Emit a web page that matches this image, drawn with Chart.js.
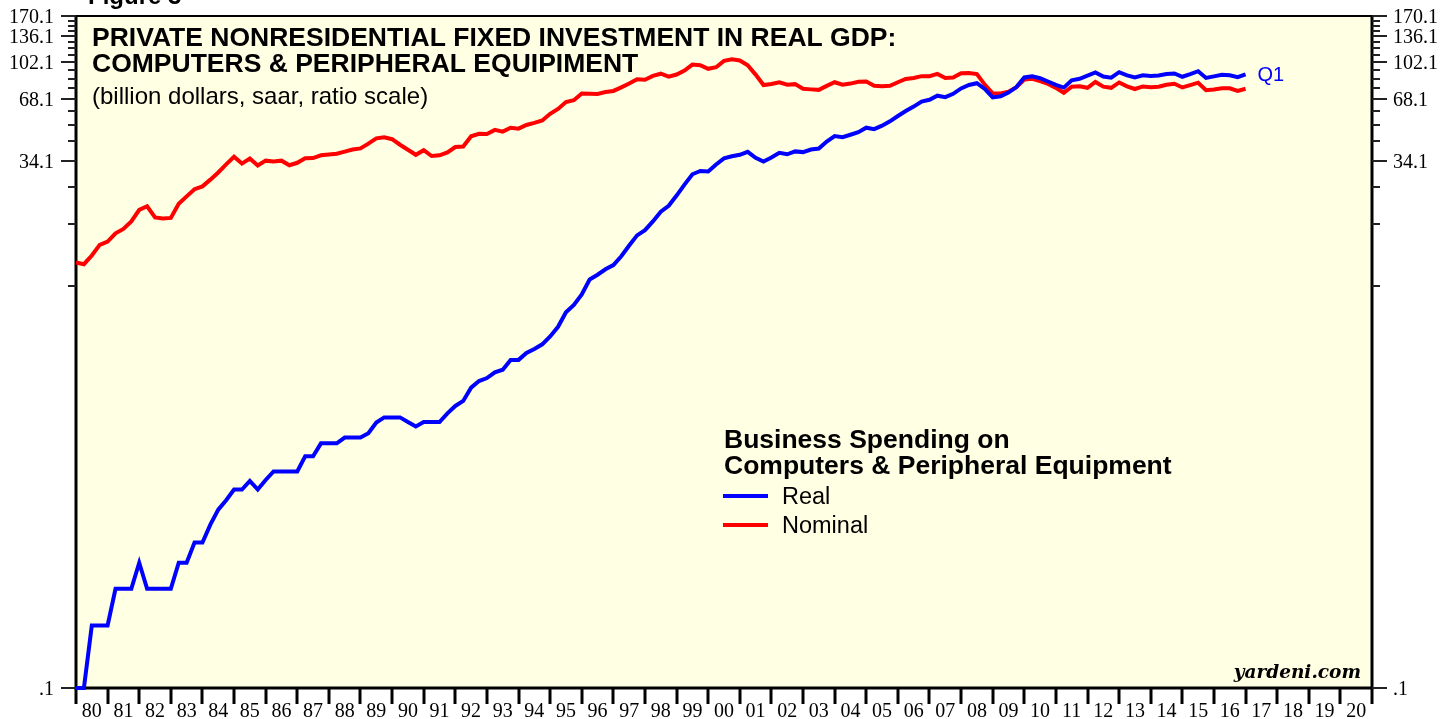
<!DOCTYPE html>
<html>
<head>
<meta charset="utf-8">
<script src="https://cdn.jsdelivr.net/npm/chart.js@4.4.1/dist/chart.umd.min.js"></script>
<style>
  html, body { margin: 0; padding: 0; background: #fff; }
  #wrap { width: 1453px; height: 719px; }
</style>
</head>
<body>
<div id="wrap"><canvas id="chart" width="1453" height="719"></canvas></div>
<script>
  'use strict';

  // quarterly series, 1980 Q1 .. 2017 Q1 (billion dollars, saar)
  const firstYear = 1980;
  const realValues = [
    0.1, 0.1, 0.2, 0.2, 0.2, 0.3, 0.3, 0.3, 0.4, 0.3,
    0.3, 0.3, 0.3, 0.4, 0.4, 0.5, 0.5, 0.61, 0.72, 0.8,
    0.9, 0.9, 0.99, 0.9, 1.0, 1.1, 1.1, 1.1, 1.1, 1.3,
    1.3, 1.5, 1.5, 1.5, 1.6, 1.6, 1.6, 1.68, 1.89, 2.0,
    2.0, 2.0, 1.9, 1.81, 1.9, 1.9, 1.9, 2.09, 2.27, 2.4,
    2.78, 2.99, 3.09, 3.29, 3.39, 3.78, 3.78, 4.08, 4.26, 4.49,
    4.9, 5.45, 6.4, 6.95, 7.8, 9.2, 9.7, 10.3, 10.8, 11.9,
    13.4, 15.0, 15.9, 17.5, 19.5, 20.8, 23.3, 26.3, 29.5, 30.6,
    30.4, 32.9, 35.2, 36.0, 36.6, 37.8, 35.4, 34.0, 35.5, 37.4,
    36.8, 38.0, 37.7, 38.8, 39.2, 42.4, 45.0, 44.5, 45.7, 47.0,
    49.4, 48.6, 50.5, 53.0, 56.2, 59.4, 62.4, 66.0, 67.3, 70.4,
    69.3, 71.9, 76.3, 79.3, 80.8, 75.9, 69.1, 69.9, 72.9, 77.4,
    86.2, 87.2, 85.4, 82.4, 79.3, 77.0, 83.5, 84.9, 87.8, 91.0,
    87.0, 86.0, 91.3, 88.2, 86.2, 88.3, 87.5, 88.1, 89.4, 90.0,
    86.8, 89.3, 92.3, 85.7, 87.2, 88.8, 88.3, 86.5, 89.2
  ];
  const nominalValues = [
    11.1, 10.9, 12.0, 13.5, 14.0, 15.35, 16.1, 17.5, 19.9, 20.7,
    18.3, 18.1, 18.2, 21.3, 23.1, 25.0, 25.8, 27.8, 30.1, 32.9,
    35.8, 33.2, 35.1, 32.5, 34.3, 34.0, 34.3, 32.6, 33.5, 35.2,
    35.3, 36.4, 36.7, 37.0, 37.9, 38.8, 39.3, 41.4, 43.9, 44.4,
    43.5, 40.9, 38.7, 36.6, 38.5, 36.1, 36.4, 37.6, 39.9, 40.1,
    44.9, 46.2, 46.1, 48.2, 47.3, 49.4, 48.9, 50.9, 52.1, 53.5,
    57.6, 60.8, 65.6, 67.0, 72.2, 71.9, 71.7, 73.3, 74.2, 77.2,
    80.5, 84.5, 84.0, 87.6, 89.8, 87.0, 89.0, 93.0, 99.3, 98.7,
    94.8, 96.5, 103.5, 105.3, 104.0, 98.7, 88.9, 79.2, 80.1, 81.7,
    79.5, 80.0, 76.0, 75.5, 75.1, 78.5, 81.7, 79.5, 80.5, 82.2,
    82.3, 78.5, 78.2, 78.5, 81.7, 84.7, 85.6, 87.4, 87.4, 89.6,
    85.7, 86.0, 90.2, 90.6, 89.4, 79.6, 72.2, 72.2, 73.6, 77.3,
    84.2, 84.9, 82.8, 80.2, 76.8, 72.7, 77.7, 78.2, 76.8, 82.0,
    77.8, 76.8, 81.5, 78.1, 75.8, 78.0, 77.3, 77.8, 79.4, 80.3,
    77.1, 79.1, 81.3, 74.8, 75.4, 76.5, 76.4, 74.2, 76.0
  ];

  // axis ticks
  const yTickValues = [0.1, 8.6, 17.1, 25.6, 34.1, 42.6, 51.1, 59.6, 68.1, 76.6, 85.1,
    93.6, 102.1, 110.6, 119.1, 127.6, 136.1, 144.6, 153.1, 161.6, 170.1];
  const yTickLabels = ['.1', '', '', '', '34.1', '', '', '', '68.1', '', '', '',
    '102.1', '', '', '', '136.1', '', '', '', '170.1'];
  const xTickYears = [1980, 1981, 1982, 1983, 1984, 1985, 1986, 1987, 1988, 1989, 1990,
    1991, 1992, 1993, 1994, 1995, 1996, 1997, 1998, 1999, 2000, 2001, 2002, 2003, 2004,
    2005, 2006, 2007, 2008, 2009, 2010, 2011, 2012, 2013, 2014, 2015, 2016, 2017, 2018,
    2019, 2020, 2021];
  const xTickLabels = ['80', '81', '82', '83', '84', '85', '86', '87', '88', '89', '90',
    '91', '92', '93', '94', '95', '96', '97', '98', '99', '00', '01', '02', '03', '04',
    '05', '06', '07', '08', '09', '10', '11', '12', '13', '14', '15', '16', '17', '18',
    '19', '20'];

  const titleLines = ['PRIVATE NONRESIDENTIAL FIXED INVESTMENT IN REAL GDP:',
    'COMPUTERS & PERIPHERAL EQUIPIMENT'];
  const subtitle = '(billion dollars, saar, ratio scale)';
  const legendTitle = ['Business Spending on', 'Computers & Peripheral Equipment'];
  const seriesNames = ['Real', 'Nominal'];

  const BLUE = '#0000ff';
  const RED = '#ff0000';
  const PAPER = '#ffffe4';

  function toPoints(values) {
    return values.map((v, i) => ({ x: firstYear + i / 4, y: v }));
  }

  const framePlugin = {
    id: 'yardeniFrame',
    beforeDraw(chart) {
      const ctx = chart.ctx;
      const a = chart.chartArea;
      ctx.save();
      ctx.fillStyle = '#ffffff';
      ctx.fillRect(0, 0, chart.width, chart.height);
      ctx.fillStyle = PAPER;
      ctx.fillRect(a.left, a.top, a.right - a.left, a.bottom - a.top);
      ctx.restore();
    },
    beforeDatasetsDraw(chart) {
      const ctx = chart.ctx;
      const a = chart.chartArea;
      const xs = chart.scales.x;
      const ys = chart.scales.y;
      ctx.save();
      ctx.strokeStyle = '#000';

      // frame
      ctx.lineWidth = 2;
      ctx.beginPath();
      ctx.moveTo(a.left, a.top);
      ctx.lineTo(a.right, a.top);
      ctx.stroke();
      ctx.lineWidth = 3;
      ctx.beginPath();
      ctx.moveTo(a.left, a.top - 1);
      ctx.lineTo(a.left, a.bottom);
      ctx.lineTo(a.right, a.bottom);
      ctx.lineTo(a.right, a.top - 1);
      ctx.stroke();

      // x ticks and year labels
      ctx.lineWidth = 3;
      xTickYears.forEach((yr) => {
        const px = Math.round(xs.getPixelForValue(yr));
        ctx.beginPath();
        ctx.moveTo(px, a.bottom);
        ctx.lineTo(px, a.bottom + 16);
        ctx.stroke();
      });
      ctx.fillStyle = '#000';
      ctx.font = '20px "Liberation Serif", "Times New Roman", serif';
      ctx.textAlign = 'center';
      ctx.textBaseline = 'alphabetic';
      xTickLabels.forEach((lbl, i) => {
        const px = xs.getPixelForValue(xTickYears[i] + 0.5);
        ctx.fillText(lbl, px, 717);
      });

      // y ticks, both sides
      ctx.lineWidth = 2;
      ctx.strokeStyle = '#222';
      yTickValues.forEach((v, i) => {
        const py = Math.round(ys.getPixelForValue(v));
        const len = yTickLabels[i] ? 15 : 8;
        ctx.beginPath();
        ctx.moveTo(a.left - len, py);
        ctx.lineTo(a.left, py);
        ctx.moveTo(a.right, py);
        ctx.lineTo(a.right + len, py);
        ctx.stroke();
      });
      ctx.textBaseline = 'middle';
      yTickValues.forEach((v, i) => {
        if (!yTickLabels[i]) return;
        const py = ys.getPixelForValue(v) + 2;
        ctx.textAlign = 'right';
        ctx.fillText(yTickLabels[i], a.left - 22, py);
        ctx.textAlign = 'left';
        ctx.fillText(yTickLabels[i], a.right + 21, py);
      });
      ctx.restore();
    },
    afterDatasetsDraw(chart) {
      const ctx = chart.ctx;
      const xs = chart.scales.x;
      const ys = chart.scales.y;
      ctx.save();
      ctx.fillStyle = '#000';
      ctx.textAlign = 'left';
      ctx.textBaseline = 'alphabetic';

      // clipped figure caption at the very top
      ctx.font = 'bold 24px "Liberation Sans", Arial, sans-serif';
      ctx.fillText('Figure 3', 88, 4);

      // title block
      ctx.font = 'bold 26.5px "Liberation Sans", Arial, sans-serif';
      ctx.fillText(titleLines[0], 92, 46);
      ctx.fillText(titleLines[1], 92, 72);
      ctx.font = '24px "Liberation Sans", Arial, sans-serif';
      ctx.fillText(subtitle, 92, 104);

      // legend
      ctx.font = 'bold 26.5px "Liberation Sans", Arial, sans-serif';
      ctx.fillText(legendTitle[0], 724, 448);
      ctx.fillText(legendTitle[1], 724, 474);
      ctx.font = '23.5px "Liberation Sans", Arial, sans-serif';
      ctx.lineWidth = 4;
      [[BLUE, 496], [RED, 525]].forEach(([col, ly], i) => {
        ctx.strokeStyle = col;
        ctx.beginPath();
        ctx.moveTo(723, ly);
        ctx.lineTo(768, ly);
        ctx.stroke();
        ctx.fillText(seriesNames[i], 782, ly + 8);
      });

      // source
      ctx.font = 'bold italic 18.5px "DejaVu Serif", serif';
      ctx.textAlign = 'right';
      ctx.fillText('yardeni.com', 1361, 678);

      // last-quarter marker
      const last = realValues.length - 1;
      const qx = xs.getPixelForValue(firstYear + last / 4);
      const qy = ys.getPixelForValue(realValues[last]);
      ctx.textAlign = 'left';
      ctx.textBaseline = 'middle';
      ctx.fillStyle = BLUE;
      ctx.font = '20px "Liberation Sans", Arial, sans-serif';
      ctx.fillText('Q1', qx + 12, qy + 1);
      ctx.restore();
    }
  };

  new Chart(document.getElementById('chart'), {
    type: 'line',
    data: {
      datasets: [
        {
          label: seriesNames[0],
          data: toPoints(realValues),
          borderColor: BLUE,
          borderWidth: 4,
          pointRadius: 0,
          tension: 0,
          clip: 6
        },
        {
          label: seriesNames[1],
          data: toPoints(nominalValues),
          borderColor: RED,
          borderWidth: 4,
          pointRadius: 0,
          tension: 0,
          clip: 6
        }
      ]
    },
    options: {
      responsive: false,
      animation: false,
      devicePixelRatio: 1,
      layout: { padding: { left: 76, top: 16, right: 81, bottom: 31 } },
      plugins: { legend: { display: false }, tooltip: { enabled: false } },
      scales: {
        x: { type: 'linear', min: 1980, max: 2021, display: false },
        y: { type: 'logarithmic', min: 0.1, max: 170.1, display: false }
      }
    },
    plugins: [framePlugin]
  });
</script>
</body>
</html>
